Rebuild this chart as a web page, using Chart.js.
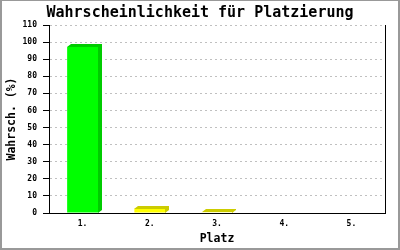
<!DOCTYPE html>
<html>
<head>
<meta charset="utf-8">
<script src="https://cdn.jsdelivr.net/npm/chart.js@4"></script>
<style>
html,body{margin:0;padding:0;background:#fff;}
#wrap{width:400px;height:250px;position:relative;}
</style>
</head>
<body>
<div id="wrap"><canvas id="c" width="400" height="250"></canvas></div>
<script>
const categories = ["1.", "2.", "3.", "4.", "5."];
const probabilities = [97.1, 2.5, 0.4, 0, 0];
const frontColors = ["#00ff00", "#ffff00", "#ffff00", "#ffff00", "#ffff00"];
const sideColors = ["#00cc00", "#cccc00", "#cccc00", "#cccc00", "#cccc00"];
const titleText = "Wahrscheinlichkeit für Platzierung";
const xTitle = "Platz";
const yTitle = "Wahrsch. (%)";

const MONO = "'DejaVu Sans Mono', monospace";

const bar3d = {
  id: 'bar3d',
  afterDatasetsDraw(chart) {
    const ctx = chart.ctx;
    const meta = chart.getDatasetMeta(0);
    const dx = 4, dy = 3;
    meta.data.forEach((bar, i) => {
      if (!probabilities[i]) return;
      const p = bar.getProps(['x', 'y', 'base', 'width'], true);
      const l = Math.round(p.x - p.width / 2), r = Math.round(p.x + p.width / 2);
      const t = Math.round(p.y), b = Math.round(p.base);
      ctx.save();
      ctx.fillStyle = sideColors[i];
      ctx.beginPath();
      ctx.moveTo(l, t); ctx.lineTo(l + dx, t - dy); ctx.lineTo(r + dx, t - dy);
      ctx.lineTo(r + dx, b - dy); ctx.lineTo(r, b); ctx.lineTo(r, t); ctx.closePath();
      ctx.fill();
      ctx.restore();
    });
  },
  afterDraw(chart) {
    const ctx = chart.ctx;
    ctx.save();
    ctx.fillStyle = '#999';
    ctx.fillRect(0, 0, 400, 1);
    ctx.fillRect(0, 0, 2, 250);
    ctx.fillRect(398, 0, 2, 250);
    ctx.fillRect(0, 248, 400, 2);
    ctx.restore();
  }
};

new Chart(document.getElementById('c'), {
  type: 'bar',
  data: {
    labels: categories,
    datasets: [{
      data: probabilities,
      backgroundColor: frontColors,
      borderWidth: 0,
      categoryPercentage: 1,
      barPercentage: 0.46
    }]
  },
  options: {
    responsive: false,
    animation: false,
    devicePixelRatio: 1,
    layout: { padding: 0 },
    plugins: {
      legend: { display: false },
      tooltip: { enabled: false },
      title: {
        display: true,
        text: titleText,
        color: '#000',
        font: { family: MONO, size: 15, weight: 'bold', lineHeight: 1.2 },
        padding: { top: 4, bottom: 3 }
      }
    },
    scales: {
      x: {
        grid: { display: false, drawTicks: false },
        border: { display: true, color: '#000', width: 1 },
        ticks: { color: '#000', font: { family: MONO, size: 8, weight: 'bold' }, padding: 6, maxRotation: 0 },
        title: { display: true, text: xTitle, color: '#000', font: { family: MONO, size: 11.5, weight: 'bold', lineHeight: 1.2 }, padding: { top: 0, bottom: 4 } },
        afterFit(s) { s.height = 37; }
      },
      y: {
        min: 0, max: 110,
        ticks: { stepSize: 10, color: '#000', font: { family: MONO, size: 8, weight: 'bold' }, padding: 6 },
        grid: { color: '#c0c0c0', lineWidth: 1, drawTicks: true, tickLength: 6, tickColor: '#000', tickWidth: 1, tickBorderDash: [] },
        border: { display: true, color: '#000', width: 1, dash: [2, 3] },
        title: { display: true, text: yTitle, color: '#000', font: { family: MONO, size: 11.5, weight: 'bold', lineHeight: 1.2 }, padding: { top: 5, bottom: 0 } },
        afterFit(s) { s.width = 49; }
      },
      yRight: {
        position: 'right',
        display: true,
        min: 0, max: 110,
        ticks: { display: false },
        grid: { display: false, drawTicks: false },
        border: { display: true, color: '#000', width: 1 },
        afterFit(s) { s.width = 15; }
      }
    }
  },
  plugins: [bar3d]
});
</script>
</body>
</html>
